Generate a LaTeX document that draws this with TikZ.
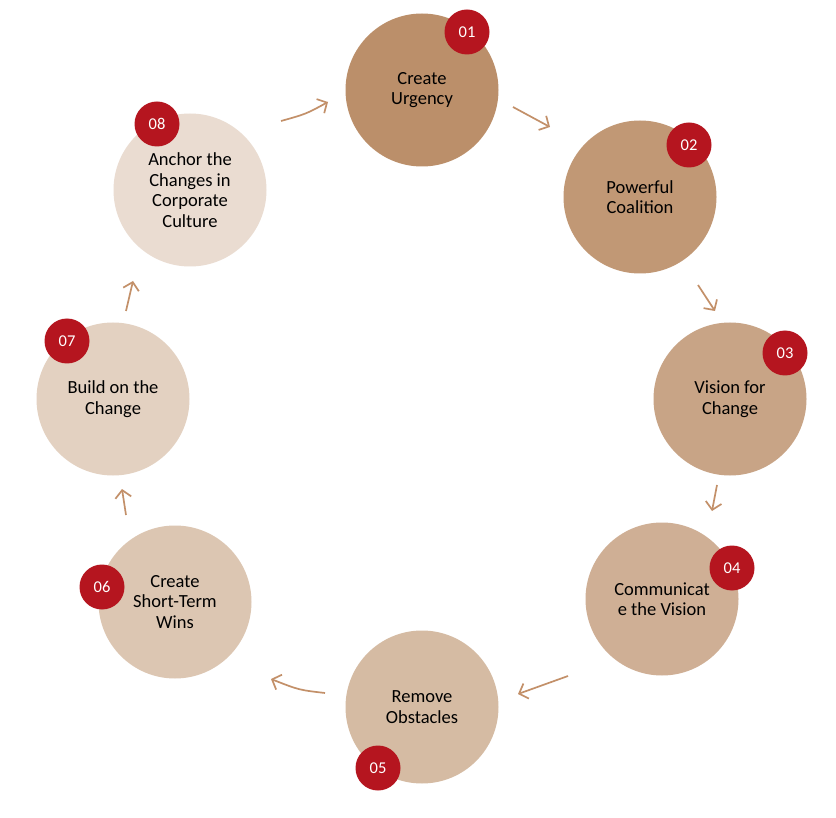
\documentclass[tikz,border=0pt]{standalone}
\usepackage{fontspec}
\setmainfont{Carlito}
\usetikzlibrary{arrows.meta}
\definecolor{cA}{HTML}{BB8F6A}
\definecolor{cB}{HTML}{C19875}
\definecolor{cC}{HTML}{C8A486}
\definecolor{cD}{HTML}{CFAF95}
\definecolor{cE}{HTML}{D5BBA3}
\definecolor{cF}{HTML}{DCC6B2}
\definecolor{cG}{HTML}{E3D1C1}
\definecolor{cH}{HTML}{EADCD1}
\definecolor{badgered}{HTML}{B5151F}
\definecolor{arrowc}{HTML}{C39069}
\tikzset{
  stage/.style={circle, minimum size=153pt, inner sep=0pt, align=center, text=black,
    font=\fontsize{18.5}{20.5}\selectfont},
  badge/.style={circle, fill=badgered, minimum size=45pt, inner sep=0pt, text=white,
    font=\fontsize{16.5}{18}\selectfont},
  flow/.style={draw=arrowc, line width=1.7pt, -{Straight Barb[length=7.5pt,width=16pt]}}
}
\begin{document}
\begin{tikzpicture}[x=1pt,y=-1pt]
\useasboundingbox[fill=white] (0,0) rectangle (836,818);
% stages
\node[stage, fill=cA] (s1) at (422,90) {Create\\Urgency};
\node[stage, fill=cB] (s2) at (640,197) {Powerful\\Coalition};
\node[stage, fill=cC] (s3) at (730,399) {Vision for\\Change};
\node[stage, fill=cD] (s4) at (662,599) {Communicat\\e the Vision};
\node[stage, fill=cE] (s5) at (422,707) {Remove\\Obstacles};
\node[stage, fill=cF] (s6) at (175,602) {Create\\Short-Term\\Wins};
\node[stage, fill=cG] (s7) at (113,399) {Build on the\\Change};
\node[stage, fill=cH] (s8) at (190,190) {Anchor the\\Changes in\\Corporate\\Culture};
% badges
\node[badge] (b1) at (467,32) {01};
\node[badge] (b2) at (689,145) {02};
\node[badge] (b3) at (785,353) {03};
\node[badge] (b4) at (732,568) {04};
\node[badge] (b5) at (378,768) {05};
\node[badge] (b6) at (102,587) {06};
\node[badge] (b7) at (67,341) {07};
\node[badge] (b8) at (157,124) {08};
% arrow end points
\coordinate (a1s) at (513,107); \coordinate (a1e) at (550,127);
\coordinate (a2s) at (698,285); \coordinate (a2e) at (715,311);
\coordinate (a3s) at (717,485); \coordinate (a3e) at (712,511);
\coordinate (a4s) at (568,676); \coordinate (a4e) at (518,694);
\coordinate (a5s) at (325,693); \coordinate (a5c) at (299,690); \coordinate (a5e) at (271,679);
\coordinate (a6s) at (126,515); \coordinate (a6e) at (122,489);
\coordinate (a7s) at (126,311); \coordinate (a7e) at (133,281);
\coordinate (a8s) at (281,121); \coordinate (a8c) at (306,114); \coordinate (a8e) at (328,102);
\draw[flow] (a1s) -- (a1e);
\draw[flow] (a2s) -- (a2e);
\draw[flow] (a3s) -- (a3e);
\draw[flow] (a4s) -- (a4e);
\draw[flow] (a5s) .. controls (a5c) .. (a5e);
\draw[flow] (a6s) -- (a6e);
\draw[flow] (a7s) -- (a7e);
\draw[flow] (a8s) .. controls (a8c) .. (a8e);
\end{tikzpicture}
\end{document}
